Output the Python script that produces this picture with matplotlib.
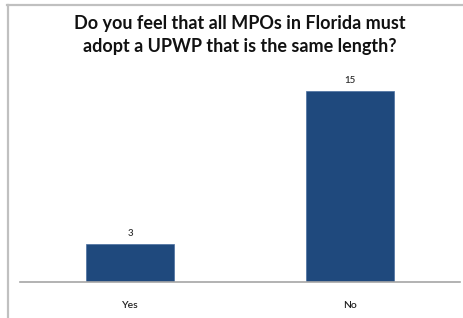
import matplotlib
matplotlib.use("Agg")
import matplotlib.pyplot as plt
from matplotlib.lines import Line2D

categories = ["Yes", "No"]
values = [3, 15]
title = "Do you feel that all MPOs in Florida must\nadopt a UPWP that is the same length?"

W, H = 464, 318
fig = plt.figure(figsize=(W/100, H/100), dpi=100)
plt.rcParams['font.family'] = ['Lato', 'DejaVu Sans']

# outer chart border (top and left visible)
bc = "#C0C0C0"
fig.add_artist(Line2D([7/W, 1.0], [1 - 4.5/H, 1 - 4.5/H], transform=fig.transFigure, color=bc, linewidth=1.6))
fig.add_artist(Line2D([7.5/W, 7.5/W], [0, 1 - 4.5/H], transform=fig.transFigure, color=bc, linewidth=1.6))

ax = fig.add_axes([20/W, (H-282)/H, 440/W, (282-72)/H])
x = range(len(categories))
bars = ax.bar(x, values, width=0.4, color="#1F497D", edgecolor="#4A6FA0", linewidth=0.5)
ax.set_xlim(-0.5, 1.5)
ax.set_ylim(0, 16.5)
for b, v in zip(bars, values):
    ax.text(b.get_x() + b.get_width()/2, v + 0.45, str(v), ha="center", va="bottom",
            fontsize=7, color="#303030", fontweight="semibold")
ax.set_xticks(list(x))
ax.set_xticklabels(categories, fontsize=7.5, color="#202020", fontweight="semibold")
ax.tick_params(axis="x", length=0, pad=14)
ax.set_yticks([])
for s in ["top", "right", "left"]:
    ax.spines[s].set_visible(False)
ax.spines["bottom"].set_color("#A6A6A6")
ax.spines["bottom"].set_linewidth(1.2)

fig.text(240/W, 1 - 35/H, title, ha="center", va="center", fontsize=13, fontweight="bold",
         linespacing=1.45, color="#111111")

fig.savefig("out.png", dpi=100, facecolor="white")
